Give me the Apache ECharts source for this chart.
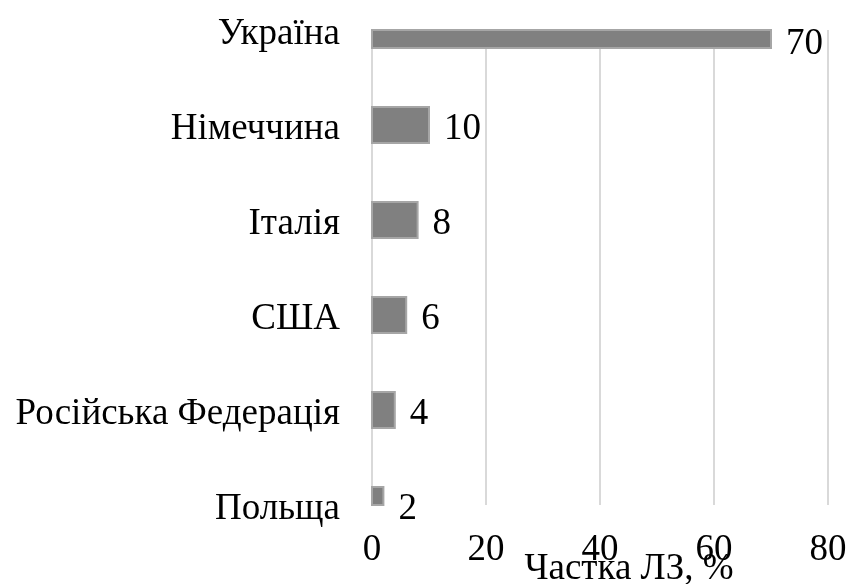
<!DOCTYPE html>
<html><head><meta charset="utf-8">
<script src="https://cdn.jsdelivr.net/npm/echarts@6/dist/echarts.min.js"></script>
<style>html,body{margin:0;padding:0;background:#fff}#c{width:850px;height:584px}</style>
</head><body><div id="c"></div>
<script>
const categories = ['Україна','Німеччина','Італія','США','Російська Федерація','Польща'];
const values = [70,10,8,6,4,2];
const xTicks = {min:0,max:80,interval:20};
const xName = 'Частка ЛЗ, %';

const font = "'Liberation Serif','Times New Roman',serif";
const FS = 37;
const chart = echarts.init(document.getElementById('c'));
chart.setOption({
  animation:false,
  grid:{left:372,right:22,top:30,bottom:79,containLabel:false,outerBoundsMode:'none'},
  xAxis:{type:'value',min:xTicks.min,max:xTicks.max,interval:xTicks.interval,
    axisLine:{show:false},axisTick:{show:false},
    splitLine:{show:true,lineStyle:{color:'#d9d9d9',width:2}},
    axisLabel:{color:'#000',fontFamily:font,fontSize:FS,margin:27},
    name:xName,nameLocation:'middle',nameGap:46,nameMoveOverlap:false,
    nameTextStyle:{color:'#000',fontFamily:font,fontSize:FS,padding:[0,0,0,58]}},
  yAxis:{type:'category',data:categories,inverse:true,boundaryGap:false,
    axisLine:{show:false},axisTick:{show:false},splitLine:{show:false},
    axisLabel:{color:'#000',fontFamily:font,fontSize:FS,margin:32,
      formatter:function(v){return '{a|'+v+'}';},
      rich:{a:{fontFamily:font,fontSize:FS,color:'#000',padding:[8,0,0,0]}}}},
  series:[{type:'custom',
    data:values.map((v,i)=>[v,i]),
    encode:{x:0,y:1},
    renderItem:function(params, api){
      const v = api.value(0), i = api.value(1);
      const s = api.coord([0,i]), e = api.coord([v,i]);
      const h = 36;
      const cs = params.coordSys;
      const rect = echarts.graphic.clipRectByRect(
        {x:s[0], y:s[1]-h/2, width:e[0]-s[0], height:h},
        {x:cs.x, y:cs.y, width:cs.width, height:cs.height});
      const ly = Math.max(e[1]+4, cs.y+14);
      return {type:'group', children:[
        {type:'rect', shape:rect, style:{fill:'#808080', stroke:'#a6a6a6', lineWidth:2}},
        {type:'text', style:{text:String(v), x:e[0]+15, y:ly, verticalAlign:'middle', align:'left',
          fontFamily:font, fontSize:FS, fill:'#000'}}
      ]};
    }}]
});
</script></body></html>
